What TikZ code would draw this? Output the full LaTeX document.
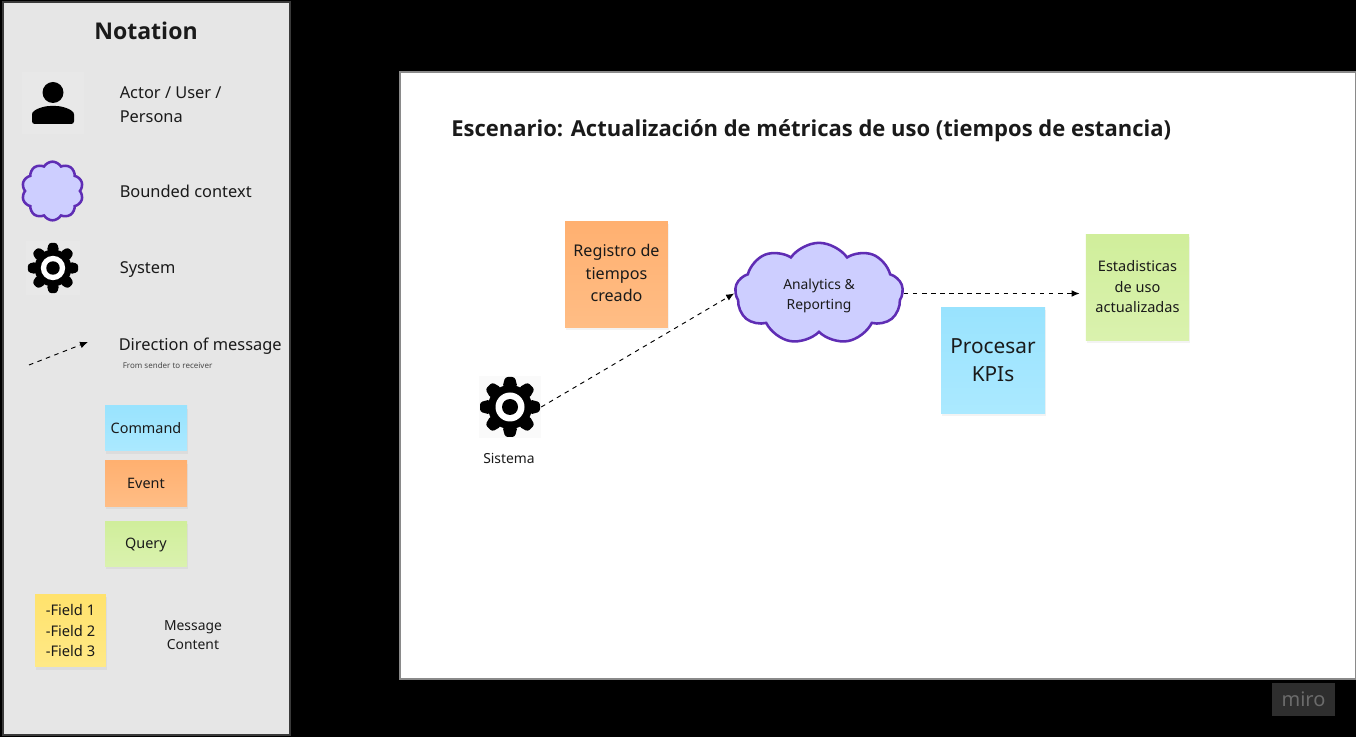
\documentclass[tikz,border=0pt]{standalone}
\usepackage{fontspec}
\setmainfont{Noto Sans}[BoldFont={Open Sans Bold}]
\usetikzlibrary{shapes.symbols, arrows.meta, shadows}
\definecolor{panelgray}{HTML}{E6E6E6}
\definecolor{panelline}{HTML}{3A3A3A}
\definecolor{sheetline}{HTML}{8A8A8A}
\definecolor{inkdark}{HTML}{1A1A1A}
\definecolor{cloudfill}{HTML}{CDCEFF}
\definecolor{cloudline}{HTML}{5F2DB4}
\definecolor{cmdtop}{HTML}{99E3FE}
\definecolor{cmdbot}{HTML}{ABE9FF}
\definecolor{evttop}{HTML}{FFB070}
\definecolor{evtbot}{HTML}{FFBD85}
\definecolor{qrytop}{HTML}{D0EE9B}
\definecolor{qrybot}{HTML}{DAF2AE}
\definecolor{fldtop}{HTML}{FFE26C}
\definecolor{fldbot}{HTML}{FFE987}
\newcommand{\pxfont}[2]{\fontsize{#1}{#2}\selectfont}
\tikzset{
  sticky/.style={inner sep=0pt, align=center, text=inkdark, drop shadow={shadow xshift=0.5pt, shadow yshift=-2pt, opacity=0.09}},
  cmdnote/.style={sticky, top color=cmdtop, bottom color=cmdbot},
  evtnote/.style={sticky, top color=evttop, bottom color=evtbot},
  qrynote/.style={sticky, top color=qrytop, bottom color=qrybot},
  fldnote/.style={sticky, top color=fldtop, bottom color=fldbot},
  label/.style={text=inkdark, align=left, anchor=west, inner sep=0pt},
  bcloud/.style={cloud, cloud puffs=10, cloud puff arc=120, draw=cloudline, fill=cloudfill, line width=1.9pt, inner sep=0pt, align=center, text=inkdark},
  iconbox/.style={minimum size=46.5pt, inner sep=0pt},
  msgarrow/.style={draw=black, dashed, dash pattern=on 3.4pt off 3.4pt, line width=0.7pt, -{Latex[length=6pt, width=5pt]}},
  gearicon/.pic={
    \fill[black] (0,0) circle (22);
    \foreach \a in {0,45,...,315}
      \fill[black, rotate=\a, rounded corners=2] (-7.5,-20) -- (-4.8,-30) -- (4.8,-30) -- (7.5,-20) -- cycle;
    \fill[white] (0,0) circle (14.5);
    \fill[black] (0,0) circle (8);
  }
}

\begin{document}
\begin{tikzpicture}[x=0.75pt, y=-0.75pt]
  \useasboundingbox (0,0) rectangle (1356,737);
  \fill[black] (0,0) rectangle (1356,737);

  % notation panel
  \draw[fill=panelgray, draw=panelline, line width=1.5pt] (2.5,2) rectangle (290,735);
  \node[text=inkdark, font=\bfseries\pxfont{17.3}{22}] (notationtitle) at (146,31) {Notation};

  \node[iconbox, fill=white, fill opacity=0.1] (actorbox) at (53,103) {};
  \fill[black] (53,92.5) circle (10.5);
  \fill[black, rounded corners=2] (32,124) -- (32,117) .. controls (32,110) and (43,106) .. (53,106) .. controls (63,106) and (74,110) .. (74,117) -- (74,124) -- cycle;
  \node[label, font=\pxfont{12.3}{18}] (actorlabel) at (119.5,105) {Actor / User /\\Persona};

  \node[bcloud, minimum width=46pt, minimum height=44pt, aspect=1] (legendcloud) at (52.5,191) {};
  \node[label, font=\pxfont{12.3}{18}] (cloudlabel) at (119.5,191) {Bounded context};

  \node[iconbox, minimum size=40pt, fill=white, fill opacity=0.1] (legendgear) at (53,268) {};
  \pic[scale=0.84] at (legendgear) {gearicon};
  \node[label, font=\pxfont{12.3}{18}] (systemlabel) at (119.5,270) {System};

  \coordinate (legendfrom) at (29,365);
  \coordinate (legendto) at (88,342);
  \draw[msgarrow] (legendfrom) -- (legendto);
  \node[label, font=\pxfont{12.3}{18}] (directionlabel) at (118.5,346) {Direction of message};
  \node[label, text=inkdark!80, font=\pxfont{6}{8}] (directionnote) at (122.5,366) {From sender to receiver};

  \node[cmdnote, minimum width=61.5pt, minimum height=33.75pt, font=\pxfont{10.8}{14}] (commandnote) at (146,428.5) {Command};
  \node[evtnote, minimum width=61.5pt, minimum height=33.75pt, font=\pxfont{10.8}{14}] (eventnote) at (146,483.5) {Event};
  \node[qrynote, minimum width=61.5pt, minimum height=33.75pt, font=\pxfont{10.8}{14}] (querynote) at (146,543.5) {\rule{0pt}{10.5pt}Query};
  \node[fldnote, minimum width=53pt, minimum height=54.5pt, font=\pxfont{11}{15.4}] (fieldnote) at (70.5,630.5) {-Field 1\\-Field 2\\-Field 3};
  \node[text=inkdark, align=center, inner sep=0pt, font=\pxfont{10.4}{14.2}] (contentlabel) at (193,635) {Message\\Content};

  % scenario sheet
  \draw[fill=white, draw=sheetline, line width=1pt] (400,72) rectangle (1355.5,679);
  \node[label, font=\bfseries\pxfont{16.5}{20}] (scenariotitle) at (451,131) {Escenario: Actualización de métricas de uso (tiempos de estancia)};

  \node[evtnote, minimum width=77pt, minimum height=80pt, font=\pxfont{12.1}{16.9}] (tiemposnote) at (616.5,274.5) {Registro de\\tiempos\\creado\rule[-2.2pt]{0pt}{0pt}};
  \node[bcloud, cloud puffs=9, cloud puff arc=110, minimum width=126pt, minimum height=76pt, aspect=1.7, font=\pxfont{10.4}{15}] (analytics) at (819,293.5) {\rule{0pt}{11pt}Analytics \&\\Reporting};
  \node[cmdnote, minimum width=78pt, minimum height=80pt, font=\pxfont{15.6}{21}] (kpisnote) at (993,360.5) {Procesar\\KPIs};
  \node[qrynote, minimum width=77.5pt, minimum height=80pt, font=\pxfont{10.9}{15.4}] (statsnote) at (1137.5,287.5) {Estadisticas\\de uso\\actualizadas\rule[-1.5pt]{0pt}{0pt}};

  \node[iconbox, fill=black, fill opacity=0.02] (sysgear) at (510,407) {};
  \pic at (sysgear) {gearicon};
  \node[text=inkdark, inner sep=0pt, font=\pxfont{10.4}{14}] (syslabel) at (509,458) {Sistema};

  \draw[msgarrow] (sysgear.east) -- (analytics.west);
  \draw[msgarrow, shorten >=4.5pt] (analytics.east) -- (statsnote.west |- analytics.east);

  % miro badge
  \node[fill=black!82, text=black!58, minimum width=47.25pt, minimum height=24.75pt, inner sep=0pt, font=\pxfont{15}{18}] (mirobadge) at (1303.5,699.5) {miro};
\end{tikzpicture}
\end{document}
